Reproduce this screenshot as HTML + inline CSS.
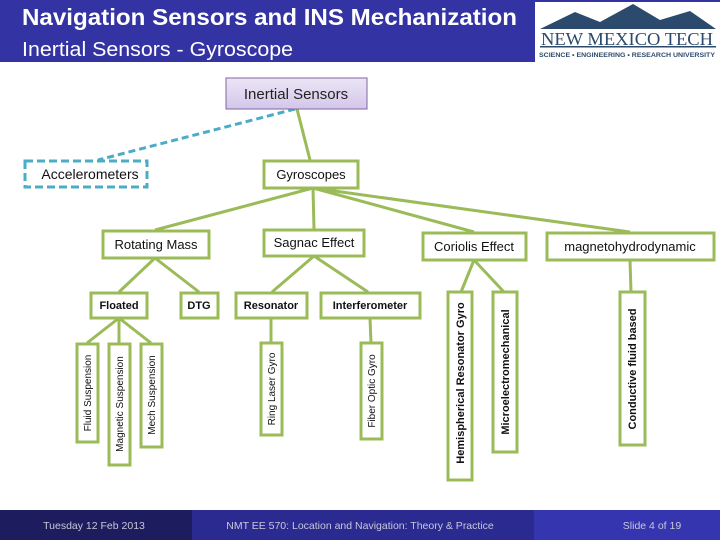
<!DOCTYPE html>
<html><head><meta charset="utf-8"><style>
html,body{margin:0;padding:0;width:720px;height:540px;overflow:hidden;background:#fff}
svg{display:block}
</style></head><body>
<svg width="720" height="540" xmlns="http://www.w3.org/2000/svg" font-family="'Liberation Sans', sans-serif">
<defs>
<linearGradient id="lv" x1="0" y1="0" x2="0" y2="1"><stop offset="0" stop-color="#ece6f6"/><stop offset="1" stop-color="#d3c6ea"/></linearGradient>
</defs>
<rect x="0" y="0" width="720" height="62" fill="#3333a3"/>
<text x="22" y="25" fill="#fff" font-size="23" font-weight="bold" textLength="495" lengthAdjust="spacingAndGlyphs">Navigation Sensors and INS Mechanization</text>
<text x="22" y="56" fill="#fff" font-size="20" textLength="271" lengthAdjust="spacingAndGlyphs">Inertial Sensors - Gyroscope</text>
<rect x="535" y="2" width="185" height="60" fill="#fff"/>
<polygon points="540,29 575,12 600,22 633,4 660,20 690,11 716,29" fill="#2c4a6e"/>
<text x="627" y="45" text-anchor="middle" font-family="'Liberation Serif', serif" font-size="18" fill="#2c4a6e" textLength="172" lengthAdjust="spacingAndGlyphs">NEW MEXICO TECH</text>
<rect x="540" y="46" width="176" height="1.5" fill="#2c4a6e"/>
<text x="627" y="57" text-anchor="middle" font-size="6" fill="#2c4a6e" font-weight="bold" textLength="176" lengthAdjust="spacingAndGlyphs">SCIENCE • ENGINEERING • RESEARCH UNIVERSITY</text>

<g stroke="#9bbb59" stroke-width="3" fill="none">
<line x1="297" y1="109" x2="310" y2="160"/>
<line x1="313" y1="188" x2="155" y2="230"/>
<line x1="313" y1="188" x2="314" y2="229"/>
<line x1="313" y1="188" x2="474" y2="232"/>
<line x1="313" y1="188" x2="630" y2="232"/>
<line x1="155" y1="258" x2="119" y2="292"/>
<line x1="155" y1="258" x2="199" y2="292"/>
<line x1="314" y1="256" x2="272" y2="292"/>
<line x1="314" y1="256" x2="368" y2="292"/>
<line x1="119" y1="318" x2="87" y2="343"/>
<line x1="119" y1="318" x2="119" y2="343"/>
<line x1="119" y1="318" x2="151" y2="343"/>
<line x1="271" y1="318" x2="271" y2="343"/>
<line x1="370" y1="318" x2="371" y2="343"/>
<line x1="474" y1="260" x2="461" y2="292"/>
<line x1="474" y1="260" x2="504" y2="292"/>
<line x1="630" y1="260" x2="631" y2="292"/>
</g>
<line x1="295" y1="109" x2="98" y2="160" stroke="#4bacc6" stroke-width="3" stroke-dasharray="7,4"/>

<rect x="226" y="78" width="141" height="31" fill="url(#lv)" stroke="#8064a2" stroke-width="1"/>
<text x="296" y="99" text-anchor="middle" font-size="15" fill="#222">Inertial Sensors</text>
<rect x="25" y="161" width="122" height="26" fill="#fff" stroke="#4bacc6" stroke-width="3" stroke-dasharray="8,4"/>
<text x="90" y="179" text-anchor="middle" font-size="14" fill="#111">Accelerometers</text>

<g fill="#fff" stroke="#9bbb59" stroke-width="3">
<rect x="264" y="161" width="94" height="27"/>
<rect x="103" y="231" width="106" height="27"/>
<rect x="264" y="230" width="100" height="26"/>
<rect x="423" y="233" width="103" height="27"/>
<rect x="547" y="233" width="167" height="27"/>
<rect x="91" y="293" width="56" height="25"/>
<rect x="181" y="293" width="37" height="25"/>
<rect x="236" y="293" width="71" height="25"/>
<rect x="321" y="293" width="99" height="25"/>
<rect x="448" y="292" width="24" height="188"/>
<rect x="493" y="292" width="24" height="160"/>
<rect x="620" y="292" width="25" height="153"/>
<rect x="77" y="344" width="21" height="98"/>
<rect x="109" y="344" width="21" height="121"/>
<rect x="141" y="344" width="21" height="103"/>
<rect x="261" y="343" width="21" height="92"/>
<rect x="361" y="343" width="21" height="96"/>
</g>
<g fill="#111" text-anchor="middle">
<text x="311" y="179" font-size="13">Gyroscopes</text>
<text x="156" y="249" font-size="13">Rotating Mass</text>
<text x="314" y="247" font-size="13">Sagnac Effect</text>
<text x="474" y="251" font-size="13">Coriolis Effect</text>
<text x="630" y="251" font-size="13">magnetohydrodynamic</text>
<g font-size="11" font-weight="bold">
<text x="119" y="309">Floated</text>
<text x="199" y="309">DTG</text>
<text x="271" y="309">Resonator</text>
<text x="370" y="309">Interferometer</text>
</g>
<g font-size="10">
<text transform="translate(91,393) rotate(-90)">Fluid Suspension</text>
<text transform="translate(123,404) rotate(-90)">Magnetic Suspension</text>
<text transform="translate(155,395) rotate(-90)">Mech Suspension</text>
<text transform="translate(275,389) rotate(-90)">Ring Laser Gyro</text>
<text transform="translate(375,391) rotate(-90)">Fiber Optic Gyro</text>
</g>
<g font-size="11" font-weight="bold">
<text transform="translate(464,383) rotate(-90)">Hemispherical Resonator Gyro</text>
<text transform="translate(509,372) rotate(-90)">Microelectromechanical</text>
<text transform="translate(636,369) rotate(-90)">Conductive fluid based</text>
</g>
</g>

<rect x="0" y="510" width="192" height="30" fill="#1c1c5e"/>
<rect x="192" y="510" width="342" height="30" fill="#2a2a90"/>
<rect x="534" y="510" width="186" height="30" fill="#3535b0"/>
<g fill="#c8c8d8" font-size="10.5" text-anchor="middle">
<text x="94" y="529">Tuesday 12 Feb 2013</text>
<text x="360" y="529">NMT EE 570: Location and Navigation: Theory &amp; Practice</text>
<text x="652" y="529">Slide 4 of 19</text>
</g>
</svg>
</body></html>
